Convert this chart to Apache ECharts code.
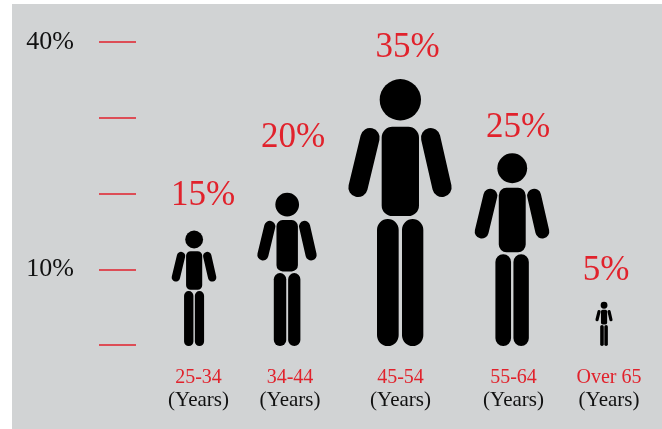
<!DOCTYPE html>
<html>
<head>
<meta charset="utf-8">
<title>Share by age group</title>
<script src="https://cdn.jsdelivr.net/npm/echarts@6/dist/echarts.min.js"></script>
<style>
html, body { margin: 0; padding: 0; background: #fff; }
#main { width: 662px; height: 429px; }
</style>
</head>
<body>
<div id="main"></div>
<script>
var ageBands = ['25-34', '34-44', '45-54', '55-64', 'Over 65'];
var unitLabel = '(Years)';
var shareLabels = ['15%', '20%', '35%', '25%', '5%'];
// height of each figure as read against the axis
var figureValues = [15.1, 20.1, 35.1, 25.3, 5.7];
var axisTicks = { 10: '10%', 40: '40%' };

var RED = '#e1222c';
var SERIF = '"Liberation Serif", "DejaVu Serif", serif';

// nudges from the even category spacing, the original is hand placed
var figureShift = [0, -9.5, 1, 10.5, 0];
var percentShift = [9, 6, 7.5, 6, 2];
var percentLift = [35, 55, 31, 26, 31];
var bandShift = [4.5, -6.5, 1.5, 12, 5];

function drawFigure(params, api) {
    var i = params.dataIndex;
    var base = api.coord([i, 0]);
    var top = api.coord([i, api.value(1)]);
    var cx = base[0] + figureShift[i];
    var y0 = top[1];
    var h = base[1] - top[1] + 1;
    var u = h / 801; // figure was measured on an 801 unit tall drawing
    var black = { fill: '#000' };

    function rect(x1, y1, x2, y2, r) {
        return {
            type: 'rect',
            shape: { x: cx + x1 * u, y: y0 + y1 * u, width: (x2 - x1) * u, height: (y2 - y1) * u, r: r * u },
            style: black
        };
    }
    function arm(x1, y1, x2, y2) {
        return {
            type: 'line',
            shape: { x1: cx + x1 * u, y1: y0 + y1 * u, x2: cx + x2 * u, y2: y0 + y2 * u },
            style: { stroke: '#000', lineWidth: 58 * u, lineCap: 'round' }
        };
    }
    function label(text, x, y, font, color) {
        return {
            type: 'text',
            style: { text: text, x: x, y: y, font: font, fill: color, align: 'center', verticalAlign: 'middle' }
        };
    }

    return {
        type: 'group',
        children: [
            { type: 'circle', shape: { cx: cx + u, cy: y0 + 62 * u, r: 62 * u }, style: black },
            rect(-55, 143, 57, 411, 32),
            rect(-69, 420, -4, 801, 32),
            rect(6, 420, 70, 801, 32),
            arm(-90, 176, -126, 325),
            arm(92, 176, 126, 325),
            label(shareLabels[i], cx + percentShift[i], y0 - percentLift[i], '35px ' + SERIF, RED),
            label(ageBands[i], base[0] + bandShift[i], 378, '20px ' + SERIF, RED),
            label(unitLabel, base[0] + bandShift[i], 400, '21px ' + SERIF, '#111')
        ]
    };
}

var myChart = echarts.init(document.getElementById('main'));
myChart.setOption({
    animation: false,
    backgroundColor: '#fff',
    graphic: [{
        type: 'rect',
        z: -10,
        shape: { x: 12, y: 4, width: 650, height: 425 },
        style: { fill: '#d1d3d4' }
    }],
    grid: { left: 142.75, top: 42, width: 512.5, height: 303 },
    xAxis: {
        type: 'category',
        data: ageBands,
        show: false
    },
    yAxis: {
        type: 'value',
        min: 0,
        max: 40,
        interval: 10,
        offset: 6.75,
        splitLine: { show: false },
        axisLine: { show: false },
        axisTick: { show: true, length: 37, lineStyle: { color: RED, width: 1.5 } },
        axisLabel: {
            margin: 62,
            color: '#111',
            fontFamily: SERIF,
            fontSize: 26,
            padding: [0, 0, 4, 0],
            formatter: function (v) { return axisTicks[v] || ''; }
        }
    },
    series: [{
        type: 'custom',
        clip: false,
        renderItem: drawFigure,
        encode: { x: 0, y: 1 },
        data: figureValues.map(function (v, i) { return [i, v]; })
    }]
});
</script>
</body>
</html>
